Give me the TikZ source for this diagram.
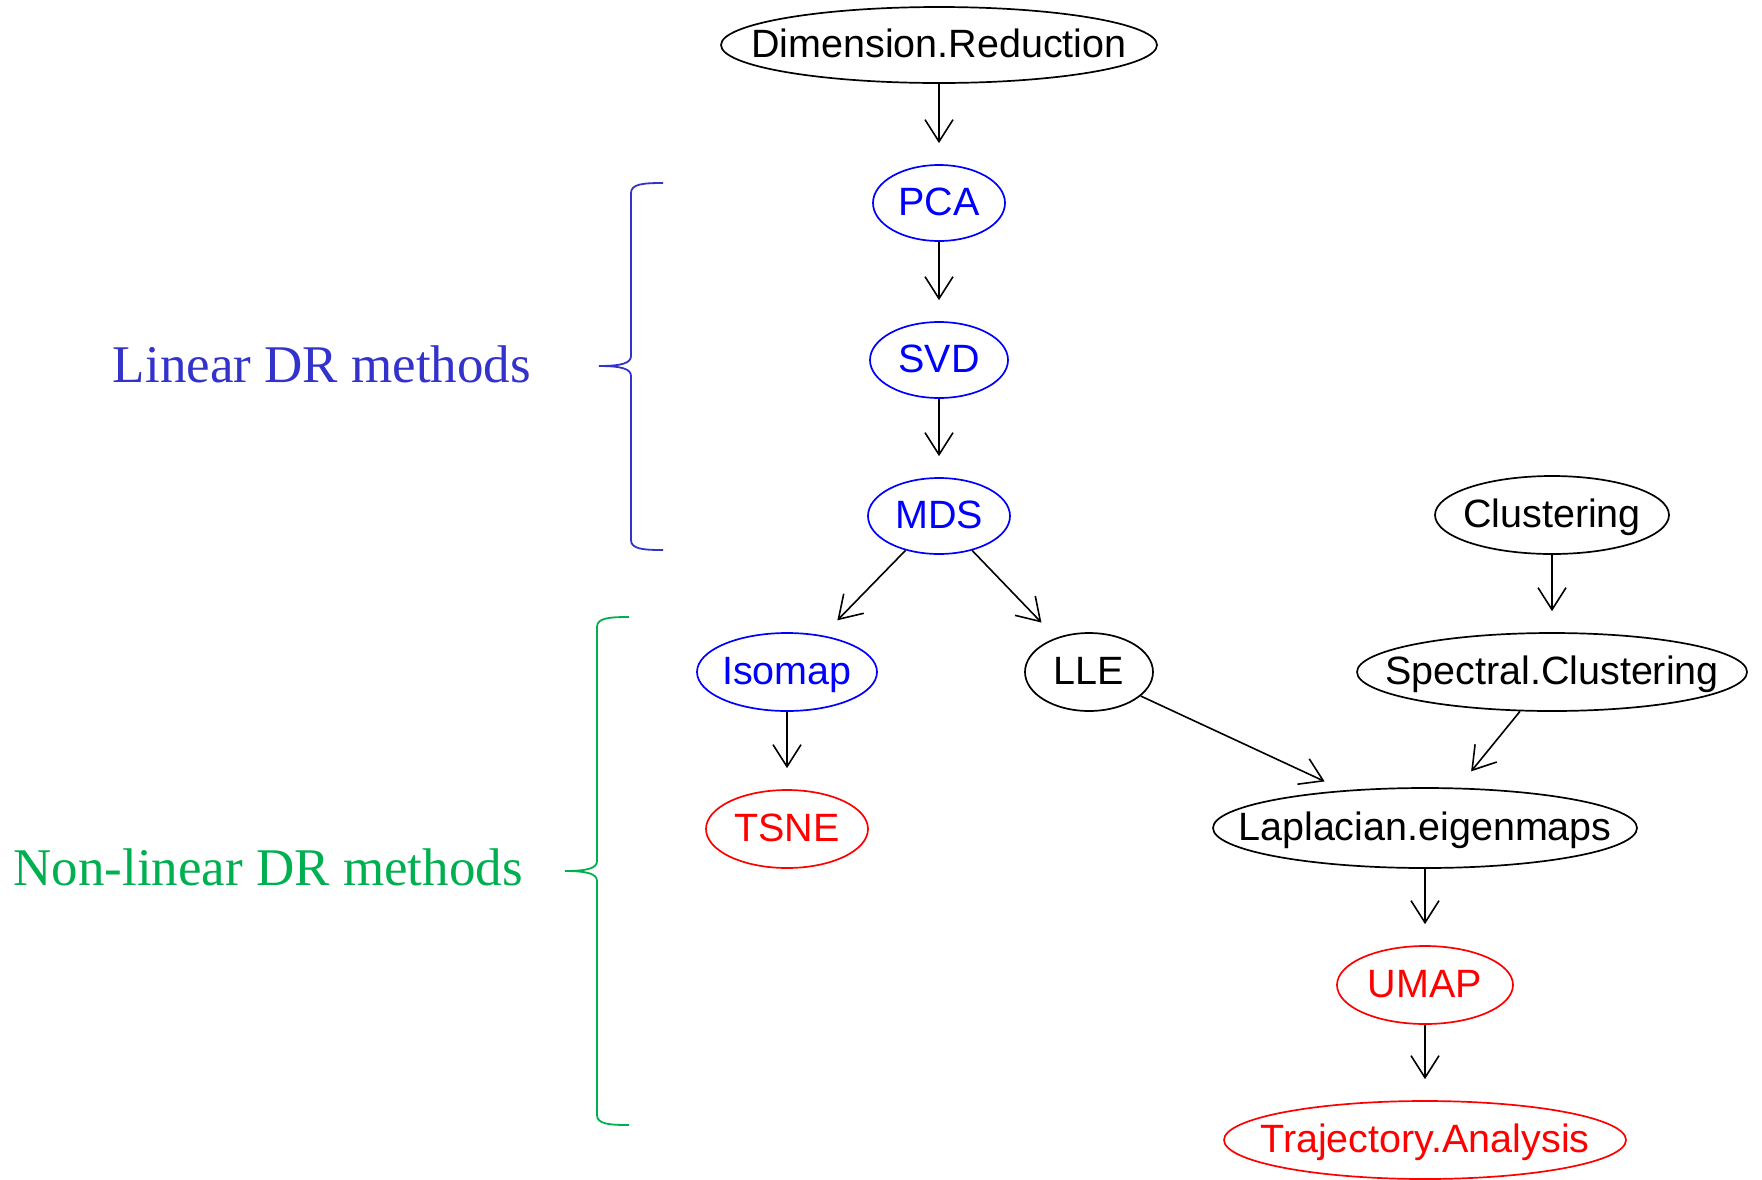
\documentclass[tikz,border=0pt]{standalone}
\usepackage{fontspec}
\setmainfont{Liberation Serif}
\setsansfont{Liberation Sans}
\usetikzlibrary{shapes.geometric,arrows.meta}
\definecolor{linblue}{RGB}{51,51,204}
\definecolor{nlgreen}{RGB}{0,176,80}
\definecolor{nblue}{RGB}{0,0,255}
\definecolor{nred}{RGB}{255,0,0}
\tikzset{
  gn/.style={ellipse, draw, line width=1.7pt, inner sep=0pt},
  lbl/.style={font=\sffamily\fontsize{39.5}{44}\selectfont, text height=24pt, text depth=0pt, inner sep=0pt},
  bluen/.style={gn, draw=nblue},
  redn/.style={gn, draw=nred},
  arr/.style={-{Straight Barb[length=22pt,width=28pt]}, line width=1.6pt, shorten >=21pt},
  brace/.style={line width=1.8pt},
  side/.style={font=\rmfamily\fontsize{53}{60}\selectfont, inner sep=0pt, anchor=base}
}
\begin{document}
\begin{tikzpicture}[x=1pt,y=-1pt]
\useasboundingbox (0,0) rectangle (1762,1179);
% nodes
\node[gn, minimum width=436pt, minimum height=76pt, label={[lbl]center:Dimension.Reduction}] (dr) at (939,45) {};
\node[bluen, minimum width=132pt, minimum height=76pt, label={[lbl,text=nblue]center:PCA}] (pca) at (939,203) {};
\node[bluen, minimum width=138pt, minimum height=76pt, label={[lbl,text=nblue]center:SVD}] (svd) at (939,360) {};
\node[bluen, minimum width=142pt, minimum height=76pt, label={[lbl,text=nblue]center:MDS}] (mds) at (939,516) {};
\node[bluen, minimum width=180pt, minimum height=78pt, label={[lbl,text=nblue]center:Isomap}] (iso) at (787,672) {};
\node[gn, minimum width=128pt, minimum height=78pt, label={[lbl]center:LLE}] (lle) at (1089,672) {};
\node[redn, minimum width=162pt, minimum height=78pt, label={[lbl,text=nred]center:TSNE}] (tsne) at (787,829) {};
\node[gn, minimum width=234pt, minimum height=78pt, label={[lbl]center:Clustering}] (clu) at (1552,515) {};
\node[gn, minimum width=390pt, minimum height=78pt, label={[lbl]center:Spectral.Clustering}] (spc) at (1552,672) {};
\node[gn, minimum width=424pt, minimum height=80pt, label={[lbl]center:Laplacian.eigenmaps}] (lap) at (1425,828) {};
\node[redn, minimum width=176pt, minimum height=78pt, label={[lbl,text=nred]center:UMAP}] (umap) at (1425,985) {};
\node[redn, minimum width=402pt, minimum height=78pt, label={[lbl,text=nred]center:Trajectory.Analysis}] (traj) at (1425,1140) {};
% edges
\draw[arr] (dr) -- (pca);
\draw[arr] (pca) -- (svd);
\draw[arr] (svd) -- (mds);
\draw[arr] (mds) -- (iso);
\draw[arr] (mds) -- (lle);
\draw[arr] (iso) -- (tsne);
\draw[arr] (clu) -- (spc);
\draw[arr] (lle) -- (lap);
\draw[arr] (spc) -- (lap);
\draw[arr] (lap) -- (umap);
\draw[arr] (umap) -- (traj);
% braces
\draw[brace, linblue] (663,183) .. controls (643,183) and (631,184) .. (631,193)
  -- (631,356) .. controls (631,363) and (622,366) .. (599,366)
  .. controls (622,366) and (631,369) .. (631,376)
  -- (631,540) .. controls (631,549) and (643,550) .. (663,550);
\draw[brace, nlgreen] (629,617) .. controls (609,617) and (597,618) .. (597,627)
  -- (597,861) .. controls (597,868) and (588,871) .. (565,871)
  .. controls (588,871) and (597,874) .. (597,881)
  -- (597,1115) .. controls (597,1124) and (609,1125) .. (629,1125);
% side labels
\node[side, text=linblue] (lin) at (322,382) {Linear DR methods};
\node[side, text=nlgreen] (nonlin) at (268,885) {Non-linear DR methods};
\end{tikzpicture}
\end{document}
